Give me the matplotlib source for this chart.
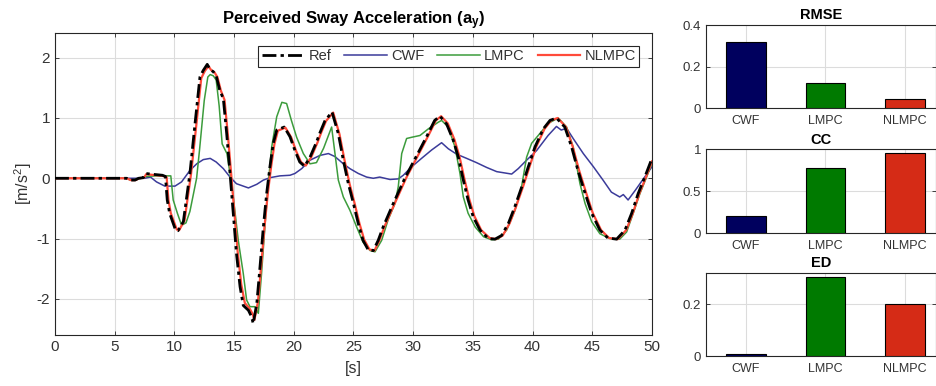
import matplotlib
matplotlib.use("Agg")
import matplotlib.pyplot as plt

plt.rcParams['font.family'] = ['Liberation Sans', 'DejaVu Sans']
plt.rcParams['mathtext.default'] = 'regular'
plt.rcParams['axes.unicode_minus'] = False

# ---- time histories of perceived sway acceleration ----
t_ref = [0, 6.0, 6.3, 6.7, 7.0, 7.4, 7.6, 8.0, 8.5, 9.0, 9.25, 9.4, 9.6, 10.1, 10.3,
         10.75, 11.3, 11.73, 12.14, 12.42, 12.75, 13.0, 13.25, 13.5, 13.8, 14.1, 14.38,
         14.66, 14.93, 15.2, 15.5, 15.77, 16.2, 16.47, 16.6, 16.9, 17.17, 17.45, 17.73,
         18.0, 18.28, 18.57, 19.2, 19.68, 20.1, 20.5, 20.9, 21.36, 21.9, 22.2, 22.6, 23.2,
         23.73, 24.15, 24.57, 25.0, 25.4, 25.8, 26.24, 26.66, 27.07, 27.5, 28.33, 29.3,
         30.57, 31.2, 31.8, 32.24, 32.8, 33.36, 33.78, 34.2, 34.6, 35.03, 35.6, 36.3,
         36.85, 37.4, 37.97, 38.5, 39.1, 39.64, 40.2, 40.9, 41.46, 42.0, 42.7, 43.27,
         43.8, 44.4, 44.95, 45.64, 46.3, 47.04, 47.74, 48.3, 48.85, 49.4, 50.0]
a_ref = [0, 0, -0.03, -0.03, 0.0, 0.01, 0.08, 0.07, 0.06, 0.05, 0.03, -0.36, -0.58, -0.86, -0.87,
         -0.72, 0.08, 0.91, 1.68, 1.79, 1.89, 1.80, 1.77, 1.70, 1.46, 1.32, 0.74,
         0.08, -0.58, -1.25, -1.80, -2.11, -2.19, -2.30, -2.41, -2.08, -1.47, -0.81, -0.25,
         0.19, 0.58, 0.80, 0.85, 0.69, 0.46, 0.27, 0.20, 0.35, 0.60, 0.76, 0.95, 1.10,
         0.74, 0.30, -0.09, -0.42, -0.75, -1.03, -1.19, -1.20, -1.03, -0.80, -0.42, 0.0,
         0.48, 0.72, 0.96, 1.03, 0.90, 0.63, 0.35, -0.03, -0.36, -0.64, -0.86, -1.0,
         -1.01, -0.95, -0.75, -0.48, -0.14, 0.19, 0.52, 0.82, 0.96, 1.0, 0.85, 0.52,
         0.13, -0.25, -0.58, -0.86, -0.99, -1.01, -0.86, -0.58, -0.25, 0.02, 0.33]

t_cwf = [0, 7.5, 8.0, 8.5, 9.2, 10.05, 10.6, 11.3, 11.87, 12.42, 13.0, 13.5, 14.1, 14.66,
         15.2, 15.77, 16.2, 16.9, 17.45, 18.0, 18.84, 19.68, 20.1, 20.66, 21.36, 22.2,
         22.9, 23.45, 24.15, 24.7, 25.4, 26.1, 26.66, 27.2, 28.06, 28.75, 29.17, 29.87,
         30.7, 31.55, 32.38, 32.94, 33.64, 34.48, 35.3, 36.15, 37.0, 38.25, 38.8, 39.5,
         40.34, 41.3, 42.0, 42.4, 42.85, 43.4, 44.25, 45.1, 45.9, 46.6, 47.3, 47.6, 48.0,
         48.6, 49.1, 50.0]
a_cwf = [0, 0, 0.02, -0.06, -0.13, -0.13, -0.06, 0.13, 0.24, 0.31, 0.33, 0.27, 0.16, 0.02,
         -0.09, -0.13, -0.16, -0.10, -0.03, 0.01, 0.04, 0.05, 0.08, 0.16, 0.30, 0.38,
         0.41, 0.36, 0.24, 0.16, 0.08, 0.02, 0.0, 0.02, -0.02, -0.01, 0.05, 0.19,
         0.33, 0.47, 0.59, 0.49, 0.40, 0.33, 0.26, 0.18, 0.11, 0.07, 0.16, 0.30,
         0.46, 0.71, 0.86, 0.80, 0.83, 0.66, 0.41, 0.19, -0.03, -0.23, -0.31, -0.27, -0.36,
         -0.20, -0.06, 0.19]

t_lmpc = [0, 6.0, 6.3, 6.7, 7.2, 7.6, 8.5, 9.3, 9.7, 9.9, 10.25, 10.6, 10.97, 11.3, 11.86,
          12.1, 12.5, 12.8, 13.0, 13.26, 13.5, 13.75, 14.0, 14.4, 14.66, 14.93, 15.35,
          15.77, 16.05, 16.33, 16.75, 17.03, 17.3, 17.6, 17.86, 18.15, 18.57, 19.0, 19.4,
          19.8, 20.24, 20.8, 21.36, 21.9, 22.5, 23.17, 23.45, 23.73, 24.15, 24.7, 25.27,
          25.8, 26.4, 26.8, 27.36, 27.9, 28.47, 28.75, 29.04, 29.45, 29.87, 30.57, 31.27,
          32.1, 32.38, 32.94, 33.5, 33.92, 34.2, 34.6, 35.2, 35.9, 36.57, 37.13, 37.83,
          38.53, 39.08, 39.5, 39.92, 40.6, 41.3, 42.15, 42.85, 43.4, 43.97, 44.4, 44.95,
          45.64, 46.48, 47.3, 47.88, 48.43, 49.0, 49.55, 50.0]
a_lmpc = [0, 0, -0.03, -0.02, 0.0, 0.03, 0.04, 0.04, 0.04, -0.36, -0.58, -0.78, -0.74, -0.55, 0.0,
          0.46, 1.29, 1.68, 1.72, 1.70, 1.63, 1.20, 0.57, 0.41, 0.08, -0.31, -1.03,
          -1.58, -2.02, -2.13, -2.13, -2.24, -1.58, -0.75, -0.09, 0.52, 1.02, 1.26, 1.24,
          0.96, 0.68, 0.41, 0.24, 0.26, 0.50, 0.85, 0.41, -0.03, -0.31, -0.53, -0.81,
          -1.06, -1.20, -1.22, -1.03, -0.69, -0.42, -0.14, 0.41, 0.66, 0.68, 0.71, 0.82,
          0.93, 0.96, 0.85, 0.52, 0.08, -0.31, -0.58, -0.81, -0.97, -1.02, -1.01, -0.86,
          -0.53, -0.14, 0.35, 0.58, 0.74, 0.91, 1.0, 0.85, 0.52, -0.09, -0.42, -0.72,
          -0.92, -1.0, -1.01, -0.89, -0.58, -0.25, 0.02, 0.25]

t_nlmpc = [0, 6.0, 6.35, 6.75, 7.05, 7.45, 7.65, 8.0, 8.5, 9.0, 9.35, 9.5, 9.7, 10.2, 10.4,
           10.85, 11.4, 11.85, 12.25, 12.55, 12.85, 13.1, 13.35, 13.6, 13.9, 14.2, 14.48,
           14.76, 15.03, 15.3, 15.6, 15.9, 16.3, 16.55, 16.7, 17.0, 17.27, 17.55, 17.83,
           18.1, 18.38, 18.67, 19.3, 19.78, 20.2, 20.6, 21.0, 21.46, 22.0, 22.3, 22.7, 23.3,
           23.83, 24.25, 24.67, 25.1, 25.5, 25.9, 26.34, 26.76, 27.17, 27.6, 28.45, 29.4,
           30.67, 31.3, 31.9, 32.34, 32.9, 33.46, 33.88, 34.3, 34.7, 35.13, 35.7, 36.4,
           36.95, 37.5, 38.07, 38.6, 39.2, 39.74, 40.3, 41.0, 41.56, 42.1, 42.8, 43.37,
           43.9, 44.5, 45.05, 45.74, 46.4, 47.14, 47.84, 48.4, 48.95, 49.5, 50.0]
a_nlmpc = [0, 0, -0.03, -0.03, 0.0, 0.01, 0.07, 0.06, 0.05, 0.04, 0.02, -0.36, -0.58, -0.85, -0.86,
           -0.70, 0.08, 0.91, 1.66, 1.78, 1.86, 1.79, 1.76, 1.68, 1.45, 1.30, 0.72,
           0.06, -0.58, -1.22, -1.76, -2.07, -2.16, -2.25, -2.35, -2.05, -1.45, -0.80, -0.24,
           0.19, 0.57, 0.79, 0.84, 0.68, 0.45, 0.27, 0.21, 0.35, 0.60, 0.76, 0.95, 1.09,
           0.73, 0.30, -0.09, -0.42, -0.75, -1.02, -1.18, -1.20, -1.03, -0.80, -0.42, 0.0,
           0.48, 0.72, 0.96, 1.03, 0.91, 0.64, 0.36, -0.02, -0.35, -0.63, -0.86, -0.99,
           -1.01, -0.95, -0.75, -0.48, -0.14, 0.19, 0.52, 0.82, 0.96, 1.0, 0.85, 0.52,
           0.13, -0.25, -0.58, -0.86, -0.99, -1.01, -0.86, -0.58, -0.25, 0.02, 0.28]

# ---- performance indices ----
methods = ['CWF', 'LMPC', 'NLMPC']
rmse = [0.318, 0.123, 0.046]
cc = [0.206, 0.774, 0.952]
ed = [0.008, 0.304, 0.20]

bar_colors = ['#00005e', '#007a00', '#d52b16']
c_cwf = '#3b3b9a'
c_lmpc = '#3c9c3c'
c_nlmpc = '#ff4a3a'
txt = '#333333'
gridc = '#dcdcdc'

fig = plt.figure(figsize=(9.37, 3.86), dpi=100)


def style_axes(ax, size):
    ax.set_facecolor('white')
    for s in ax.spines.values():
        s.set_color('#262626')
        s.set_linewidth(0.8)
    ax.tick_params(direction='in', top=True, right=True, colors='#262626',
                   labelcolor=txt, labelsize=size, length=3, width=0.6)
    ax.grid(True, color=gridc, linewidth=0.8)
    ax.set_axisbelow(True)


# main time-history axes
ax = fig.add_axes([0.0587, 0.1321, 0.6371, 0.7824])
style_axes(ax, 11)
ax.plot(t_cwf, a_cwf, color=c_cwf, lw=1.1, label='CWF', zorder=3)
ax.plot(t_lmpc, a_lmpc, color=c_lmpc, lw=1.1, label='LMPC', zorder=3)
ax.plot(t_nlmpc, a_nlmpc, color=c_nlmpc, lw=1.6, label='NLMPC', zorder=4)
ax.plot(t_ref, a_ref, color='black', lw=2.0, ls=(0, (5, 1.5, 1.2, 1.5)), label='Ref', zorder=5)
ax.set_xlim(0, 50)
ax.set_ylim(-2.6, 2.41)
ax.set_xticks(range(0, 51, 5))
ax.set_yticks([-2, -1, 0, 1, 2])
ax.set_xlabel('[s]', fontsize=11.5, color=txt, labelpad=5)
ax.set_ylabel('[m/s$^2$]', fontsize=11.5, color=txt, labelpad=2)
ax.set_title('Perceived Sway Acceleration (a$_y$)', fontsize=12, fontweight='bold',
             color='black', pad=6)
h, l = ax.get_legend_handles_labels()
order = [3, 0, 1, 2]
leg = ax.legend([h[i] for i in order], [l[i] for i in order], ncol=4,
                loc='upper right', bbox_to_anchor=(0.979, 0.958), fontsize=10.5,
                frameon=True, fancybox=False, framealpha=1, edgecolor='#262626',
                handlelength=2.9, handletextpad=0.3, columnspacing=0.9,
                borderpad=0.25, borderaxespad=0)
leg.get_frame().set_linewidth(0.8)
for tx in leg.get_texts():
    tx.set_color(txt)

# bar-chart axes for the indices
panels = [
    ('RMSE', rmse, [0.7535, 0.7194, 0.2455, 0.2158], (0, 0.4), [0, 0.2, 0.4], ['0', '0.2', '0.4']),
    ('CC', cc, [0.7535, 0.3956, 0.2455, 0.2176], (0, 1.0), [0, 0.5, 1], ['0', '0.5', '1']),
    ('ED', ed, [0.7535, 0.0777, 0.2455, 0.2150], (0, 0.32), [0, 0.2], ['0', '0.2']),
]
for title, vals, pos, ylim, yt, ytl in panels:
    bx = fig.add_axes(pos)
    style_axes(bx, 9.5)
    xs = list(range(1, len(methods) + 1))
    bx.bar(xs, vals, width=0.5, color=bar_colors, edgecolor='black', linewidth=0.8, zorder=3)
    bx.set_xlim(0.5, 3.39)
    bx.set_ylim(*ylim)
    bx.set_xticks(xs)
    bx.set_xticklabels(methods, fontsize=9)
    bx.set_yticks(yt)
    bx.set_yticklabels(ytl)
    bx.tick_params(axis='x', length=0, pad=5)
    bx.set_title(title, fontsize=10.5, fontweight='bold', color='black', pad=4)

fig.savefig('out.png', dpi=100)
